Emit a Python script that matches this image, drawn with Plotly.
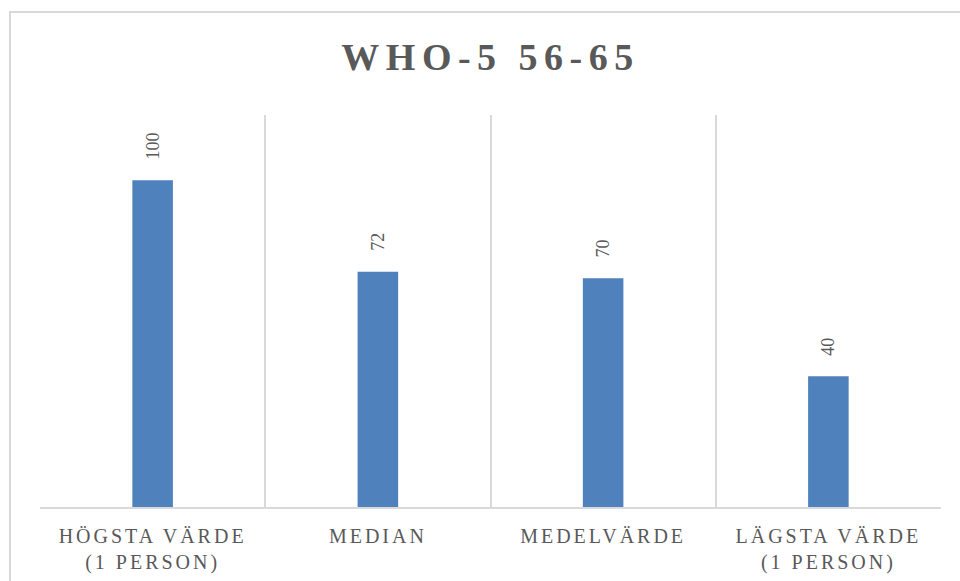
import plotly.graph_objects as go

# data
categories = ["HÖGSTA VÄRDE<br>(1 PERSON)", "MEDIAN", "MEDELVÄRDE", "LÄGSTA VÄRDE<br>(1 PERSON)"]
values = [100, 72, 70, 40]
title_text = "WHO-5 56-65"

GRAY_TXT = "#595959"
GRID = "#D9D9D9"
BAR = "#4F81BD"
SERIF = "Liberation Serif, DejaVu Serif, serif"

fig = go.Figure(
    go.Bar(
        x=categories,
        y=values,
        marker=dict(color=BAR, line=dict(width=0)),
        width=0.18,
        hoverinfo="skip",
    )
)

# data labels, rotated, above the bars
for c, v in zip(categories, values):
    fig.add_annotation(
        x=c, y=v, text=str(v), textangle=-90,
        showarrow=False, yanchor="bottom", yshift=19,
        font=dict(family=SERIF, size=18, color=GRAY_TXT),
    )

# outer chart border (runs off the right/bottom edge like the original)
fig.add_shape(
    type="rect", xref="paper", yref="paper",
    x0=-0.0333, x1=1.2, y0=-0.3, y1=1.2628,
    line=dict(color=GRID, width=2), layer="below",
)

fig.update_layout(
    width=960,
    height=581,
    paper_bgcolor="white",
    plot_bgcolor="white",
    margin=dict(l=40, r=19, t=115, b=74),
    showlegend=False,
    title=dict(
        text=title_text,
        x=0.511, xanchor="center",
        y=0.903, yref="container", yanchor="middle",
        font=dict(family=SERIF, size=38, color=GRAY_TXT, weight="bold"),
    ),
    xaxis=dict(
        type="category",
        tickson="boundaries",
        showgrid=True,
        gridcolor=GRID,
        gridwidth=1.5,
        showline=True,
        linecolor=GRID,
        linewidth=1.5,
        ticks="",
        ticklabelstandoff=10,
        automargin=False,
        tickfont=dict(family=SERIF, size=20, color=GRAY_TXT),
        range=[-0.5, 3.5],
    ),
    yaxis=dict(
        range=[0, 120],
        showgrid=False,
        zeroline=False,
        showticklabels=False,
        visible=False,
        automargin=False,
    ),
)

css = """
document.body.style.margin = '0';
var st = document.createElement('style');
st.innerHTML = '.xtick text { letter-spacing: 3px; } .gtitle { letter-spacing: 6.5px; }';
document.head.appendChild(st);
"""

fig.write_html("out.html", post_script=css, config={"displayModeBar": False})
